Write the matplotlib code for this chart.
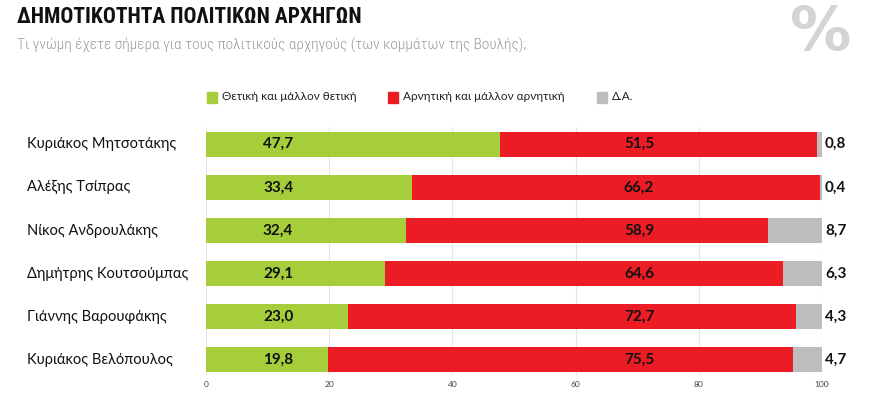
import matplotlib
matplotlib.use("Agg")
import matplotlib.pyplot as plt
from matplotlib.patches import Rectangle

names = ["Κυριάκος Μητσοτάκης", "Αλέξης Τσίπρας", "Νίκος Ανδρουλάκης",
         "Δημήτρης Κουτσούμπας", "Γιάννης Βαρουφάκης", "Κυριάκος Βελόπουλος"]
positive = [47.7, 33.4, 32.4, 29.1, 23.0, 19.8]
negative = [51.5, 66.2, 58.9, 64.6, 72.7, 75.5]
dk = [0.8, 0.4, 8.7, 6.3, 4.3, 4.7]
legend_labels = ["Θετική και μάλλον θετική", "Αρνητική και μάλλον αρνητική", "Δ.Α."]
xticks = [0, 20, 40, 60, 80, 100]

GREEN = "#a6cd3a"
RED = "#ec1c24"
GREY = "#bdbdbf"
COND = ["Roboto Condensed", "DejaVu Sans"]

fig = plt.figure(figsize=(8.8, 4.13), dpi=100)
ax = fig.add_axes([206/880, 1-375/413, 616/880, (375-127)/413])

y = list(range(len(names)))
h = 0.58
left2 = [p for p in positive]
left3 = [p + n for p, n in zip(positive, negative)]
ax.barh(y, positive, height=h, color=GREEN, zorder=2)
ax.barh(y, negative, left=left2, height=h, color=RED, zorder=2)
ax.barh(y, dk, left=left3, height=h, color=GREY, zorder=2)

fmt = lambda v: f"{v:.1f}".replace(".", ",")
for i in y:
    ax.text(11.7, i, fmt(positive[i]), ha="center", va="center", fontsize=11,
            fontweight="bold", family="Lato", color="#111111", zorder=3)
    ax.text(70.3, i, fmt(negative[i]), ha="center", va="center", fontsize=11,
            fontweight="bold", family="Lato", color="#111111", zorder=3)
    ax.text(100.5, i, fmt(dk[i]), ha="left", va="center", fontsize=11,
            fontweight="bold", family="Lato", color="#111111", zorder=3)
    ax.text(-29.0, i, names[i], ha="left", va="center", fontsize=10.5,
            family="Lato", color="#111111")

ax.set_xlim(0, 100)
ax.set_ylim(5.35, -0.4)
ax.set_xticks(xticks)
ax.set_xticklabels([str(t) for t in xticks], fontsize=6, color="#444444", family="Lato")
ax.set_yticks([])
ax.tick_params(axis="x", length=0, pad=4)
ax.grid(axis="x", color="#e4e4e4", linewidth=0.8, zorder=0)
for s in ax.spines.values():
    s.set_visible(False)

# title, subtitle, %
fig.text(17/880, 1-17/413, "ΔΗΜΟΤΙΚΟΤΗΤΑ ΠΟΛΙΤΙΚΩΝ ΑΡΧΗΓΩΝ", ha="left", va="center",
         fontsize=15.5, fontweight="bold", family=COND, color="#111111")
fig.text(17/880, 1-45/413, "Τι γνώμη έχετε σήμερα για τους πολιτικούς αρχηγούς (των κομμάτων της Βουλής);",
         ha="left", va="center", fontsize=11.1, fontweight="light", family=COND, color="#9a9a9a")
fig.text(821/880, 1-50/413, "%", ha="center", va="baseline", fontsize=44,
         fontweight="bold", family="DejaVu Sans", color="#d4d4d4")

# legend
leg_x = [207, 388, 597]
for x0, lab, c in zip(leg_x, legend_labels, [GREEN, RED, GREY]):
    fig.patches.append(Rectangle((x0/880, 1-103/413), 10/880, 11/413,
                                 transform=fig.transFigure, color=c, figure=fig))
    fig.text((x0+15)/880, 1-97/413, lab, ha="left", va="center", fontsize=8.5,
             family="Lato", color="#222222")

fig.savefig("out.png", dpi=100)
